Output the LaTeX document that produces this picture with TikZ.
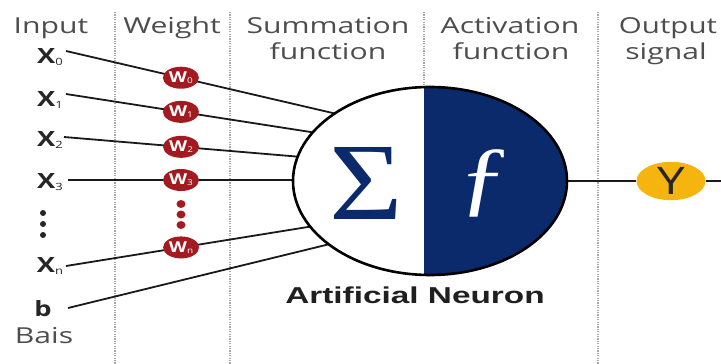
\documentclass[tikz,border=0pt]{standalone}
\usepackage{graphicx}
\usepackage{fontspec}
\setmainfont{Open Sans}
\newfontfamily\libsans{Liberation Sans}
\newfontfamily\libserif{Liberation Serif}
\usetikzlibrary{shapes.geometric}
\definecolor{navy}{HTML}{0B2A6B}
\definecolor{wred}{HTML}{A31B20}
\definecolor{ygold}{HTML}{F6B40E}
\definecolor{hgray}{HTML}{4D4D4D}
\newcommand{\hs}[2][1.37]{\scalebox{#1}[1]{#2}}
\newcommand{\subtxt}[2][10]{\raisebox{-0.08em}{\fontsize{#1}{#1}\selectfont\mdseries #2}}
\begin{document}
\begin{tikzpicture}[x=1pt,y=-1pt,
  hdr/.style={anchor=base, text=hgray, font=\fontsize{22}{26}\selectfont, inner sep=0},
  inlab/.style={anchor=center, text=black!85, font=\fontsize{21}{21}\selectfont\bfseries, inner sep=0},
  wnode/.style={ellipse, fill=wred, minimum width=36pt, minimum height=22pt, inner sep=0, text=white, font=\fontsize{15}{15}\selectfont\bfseries},
  conn/.style={line width=1.8pt, black!90},
  sep/.style={gray!70, line width=1.4pt, dash pattern=on 1.2pt off 1.2pt},
]
\useasboundingbox (0,0) rectangle (721,364);
% separators
\draw[sep] (115,12) -- (115,364);
\draw[sep] (230,12) -- (230,364);
\draw[sep] (424,12) -- (424,88);
\draw[sep] (598,12) -- (598,364);
% headers
\node[hdr] (hin) at (51,33) {\hs{Input}};
\node[hdr] (hw) at (172,33) {\hs{Weight}};
\node[hdr] (hs1) at (328,33) {\hs{Summation}};
\node[hdr] (hs2) at (328,59) {\hs{function}};
\node[hdr] (ha1) at (510,33) {\hs{Activation}};
\node[hdr] (ha2) at (511,59) {\hs{function}};
\node[hdr] (ho1) at (668,33) {\hs[1.34]{Output}};
\node[hdr] (ho2) at (666,59) {\hs{signal}};
% input labels
\node[inlab] (x0) at (50,57) {\hs[1.3]{X\subtxt{0}}};
\node[inlab] (x1) at (50,100) {\hs[1.3]{X\subtxt{1}}};
\node[inlab] (x2) at (50,140) {\hs[1.3]{X\subtxt{2}}};
\node[inlab] (x3) at (50,182) {\hs[1.3]{X\subtxt{3}}};
\node[inlab] (xn) at (50,266) {\hs[1.3]{X\subtxt{n}}};
\node[inlab] (b) at (43,309) {\hs[1.3]{b}};
\node[hdr] (bais) at (44,343) {\hs{Bais}};
\fill[black!85] (43,213) circle[radius=3];
\fill[black!85] (43,224) circle[radius=3];
\fill[black!85] (43,235) circle[radius=3];
% start / end coordinates
\coordinate (s0) at (66,51);  \coordinate (e0) at (337,114);
\coordinate (s1) at (66,94);  \coordinate (e1) at (317,133);
\coordinate (s2) at (64,137); \coordinate (e2) at (302,157);
\coordinate (s3) at (68,180); \coordinate (e3) at (300,180);
\coordinate (s4) at (66,266); \coordinate (e4) at (314,226);
\coordinate (s5) at (68,308); \coordinate (e5) at (334,243);
% connectors with weights
\draw[conn] (s0) -- (e0) node[wnode, pos=0.424] (w0) {\hs[1.25]{W\subtxt[8]{0}}};
\draw[conn] (s1) -- (e1) node[wnode, pos=0.458] (w1) {\hs[1.25]{W\subtxt[8]{1}}};
\draw[conn] (s2) -- (e2) node[wnode, pos=0.492] (w2) {\hs[1.25]{W\subtxt[8]{2}}};
\draw[conn] (s3) -- (e3) node[wnode, pos=0.487] (w3) {\hs[1.25]{W\subtxt[8]{3}}};
\draw[conn] (s4) -- (e4) node[wnode, pos=0.464] (wn) {\hs[1.25]{W\subtxt[8]{n}}};
\draw[conn] (s5) -- (e5);
\fill[wred] (181,204) ellipse[x radius=4.5, y radius=4];
\fill[wred] (181,214.5) ellipse[x radius=4.5, y radius=4];
\fill[wred] (181,225) ellipse[x radius=4.5, y radius=4];
% neuron
\fill[white] (430,181) ellipse[x radius=137, y radius=94];
\begin{scope}
  \clip (424,0) rectangle (721,364);
  \fill[navy] (430,181) ellipse[x radius=137, y radius=94];
\end{scope}
\node[ellipse, draw, line width=2.6pt, minimum width=274pt, minimum height=188pt, inner sep=0] (neuron) at (430,181) {};
\node[text=navy, inner sep=0, font=\libserif\fontsize{110}{110}\selectfont] (sig) at (366,183) {\hs[1.15]{Σ}};
\node[text=white, inner sep=0, font=\libserif\fontsize{84}{84}\selectfont] (fn) at (485,183) {\hs[1.25]{ƒ}};
\node[anchor=base, inner sep=0, text=black!88, font=\libsans\bfseries\fontsize{23}{23}\selectfont] (an) at (415,303) {\hs[1.45]{Artificial Neuron}};
% output
\node[ellipse, fill=ygold, minimum width=69pt, minimum height=37pt, inner sep=0, text=black!85, font=\fontsize{38}{38}\selectfont] (y) at (671,181) {\hs[1.3]{Y}};
\coordinate (yend) at (721,181);
\draw[conn, line width=1.4pt] (neuron.east) -- (y.west);
\draw[conn, line width=1.4pt] (y.east) -- (yend);
\end{tikzpicture}
\end{document}
